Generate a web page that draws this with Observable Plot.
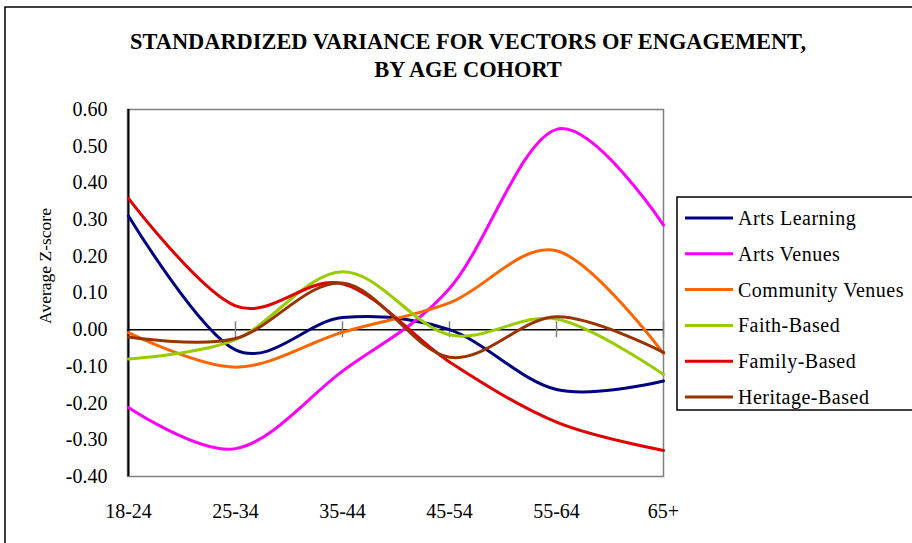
<!DOCTYPE html>
<html><head><meta charset="utf-8">
<script src="https://cdn.jsdelivr.net/npm/d3@7"></script>
<script src="https://cdn.jsdelivr.net/npm/@observablehq/plot@0.6"></script>
<style>body{margin:0;background:#fff} svg{display:block}</style>
</head><body><div id="chart"></div>
<script>
const cohorts = ["18-24","25-34","35-44","45-54","55-64","65+"];
const seriesNames = ["Arts Learning","Arts Venues","Community Venues","Faith-Based","Family-Based","Heritage-Based"];
const seriesColors = ["#000080","#FF00FF","#FF6600","#99CC00","#E00000","#993300"];
const artsLearning    = [0.31, -0.055, 0.033, 0.000, -0.163, -0.140];
const artsVenues      = [-0.212, -0.324, -0.113, 0.112, 0.546, 0.285];
const communityVenues = [-0.008, -0.102, -0.007, 0.073, 0.215, -0.065];
const faithBased      = [-0.080, -0.027, 0.158, -0.014, 0.029, -0.122];
const familyBased     = [0.358, 0.065, 0.125, -0.088, -0.252, -0.329];
const heritageBased   = [-0.020, -0.024, 0.127, -0.075, 0.035, -0.062];
const yTicks = [-0.4,-0.3,-0.2,-0.1,0,0.1,0.2,0.3,0.4,0.5,0.6];
const title1 = "STANDARDIZED VARIANCE FOR VECTORS OF ENGAGEMENT,";
const title2 = "BY AGE COHORT";
const yLabel = "Average Z-score";

const allValues = [artsLearning, artsVenues, communityVenues, faithBased, familyBased, heritageBased];
const data = seriesNames.flatMap((s, i) => allValues[i].map((v, j) => ({series: s, cohort: cohorts[j], value: v})));

const serif = "'Liberation Serif', 'Times New Roman', serif";
const chart = Plot.plot({
  width: 912, height: 543,
  marginLeft: 127, marginRight: 249, marginTop: 109, marginBottom: 67,
  style: {fontFamily: serif, fontSize: "20px", background: "white", color: "black"},
  x: {type: "point", domain: cohorts, padding: 0},
  y: {domain: [-0.4, 0.6]},
  color: {domain: seriesNames, range: seriesColors},
  marks: [
    Plot.frame({stroke: "#808080", strokeWidth: 1.5}),
    Plot.ruleY([0], {stroke: "black", strokeWidth: 1.5}),
    Plot.ruleX(cohorts, {y1: 0, y2: 0, insetTop: -8, insetBottom: -8, stroke: "#808080", strokeWidth: 1.5}),
    Plot.ruleY(yTicks, {x1: cohorts[0], x2: cohorts[0], insetLeft: -7, insetRight: -7, stroke: "black", strokeWidth: 1.2}),
    Plot.ruleX([cohorts[0]], {stroke: "black", strokeWidth: 2}),
    Plot.axisY({ticks: yTicks, tickFormat: d => d.toFixed(2), tickSize: 0, tickPadding: 20, label: null, fontSize: 20, fontFamily: serif}),
    Plot.axisX({tickSize: 0, tickPadding: 27, label: null, fontSize: 20, fontFamily: serif}),
    Plot.line(data, {x: "cohort", y: "value", stroke: "series", z: "series", strokeWidth: 3, curve: "cardinal"})
  ]
});

const svg = d3.select(chart);
// outer chart frame
svg.append("rect").attr("x", 5).attr("y", 7).attr("width", 930).attr("height", 560)
  .attr("fill", "none").attr("stroke", "black").attr("stroke-width", 1.5);
// title
[title1, title2].forEach((t, i) => {
  svg.append("text").attr("x", 468).attr("y", 49 + i * 28).attr("text-anchor", "middle")
    .style("font-family", serif).attr("font-weight", "bold").attr("font-size", 22.4).attr("fill", "black").text(t);
});
// y label
svg.append("text").attr("transform", "translate(51,266) rotate(-90)").attr("text-anchor", "middle")
  .style("font-family", serif).attr("font-size", 17.5).attr("fill", "black").text(yLabel);
// legend
const lg = svg.append("g");
lg.append("rect").attr("x", 677).attr("y", 197).attr("width", 260).attr("height", 213)
  .attr("fill", "white").attr("stroke", "black").attr("stroke-width", 1.5);
seriesNames.forEach((s, i) => {
  const y = 218 + i * 35.8;
  lg.append("line").attr("x1", 685).attr("x2", 733).attr("y1", y).attr("y2", y)
    .attr("stroke", seriesColors[i]).attr("stroke-width", 3);
  lg.append("text").attr("x", 738).attr("y", y).attr("dy", "0.35em").attr("text-anchor", "start")
    .attr("letter-spacing", 0.5)
    .style("font-family", serif).attr("font-size", 20).attr("fill", "black").text(s);
});
document.getElementById("chart").append(chart);
</script>
</body></html>
